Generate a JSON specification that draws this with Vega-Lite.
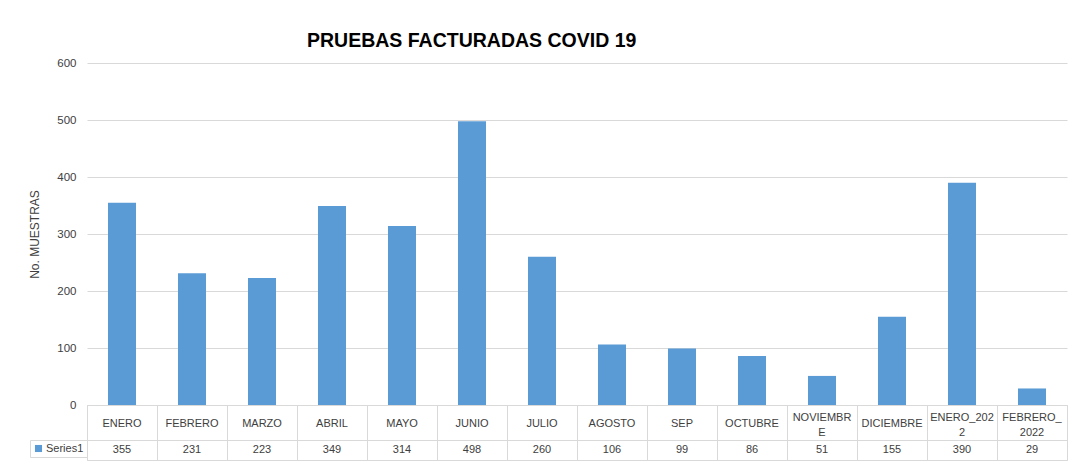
{
  "$schema": "https://vega.github.io/schema/vega-lite/v6.json",
  "background": "white",
  "padding": {"left": 28, "top": 30, "right": 5, "bottom": 5},
  "data": {
    "values": [
      {"mes": "ENERO", "etiqueta": "ENERO", "linea1": "", "linea2": "", "muestras": 355, "serie": "Series1"},
      {"mes": "FEBRERO", "etiqueta": "FEBRERO", "linea1": "", "linea2": "", "muestras": 231, "serie": "Series1"},
      {"mes": "MARZO", "etiqueta": "MARZO", "linea1": "", "linea2": "", "muestras": 223, "serie": "Series1"},
      {"mes": "ABRIL", "etiqueta": "ABRIL", "linea1": "", "linea2": "", "muestras": 349, "serie": "Series1"},
      {"mes": "MAYO", "etiqueta": "MAYO", "linea1": "", "linea2": "", "muestras": 314, "serie": "Series1"},
      {"mes": "JUNIO", "etiqueta": "JUNIO", "linea1": "", "linea2": "", "muestras": 498, "serie": "Series1"},
      {"mes": "JULIO", "etiqueta": "JULIO", "linea1": "", "linea2": "", "muestras": 260, "serie": "Series1"},
      {"mes": "AGOSTO", "etiqueta": "AGOSTO", "linea1": "", "linea2": "", "muestras": 106, "serie": "Series1"},
      {"mes": "SEP", "etiqueta": "SEP", "linea1": "", "linea2": "", "muestras": 99, "serie": "Series1"},
      {"mes": "OCTUBRE", "etiqueta": "OCTUBRE", "linea1": "", "linea2": "", "muestras": 86, "serie": "Series1"},
      {"mes": "NOVIEMBRE", "etiqueta": "", "linea1": "NOVIEMBR", "linea2": "E", "muestras": 51, "serie": "Series1"},
      {"mes": "DICIEMBRE", "etiqueta": "DICIEMBRE", "linea1": "", "linea2": "", "muestras": 155, "serie": "Series1"},
      {"mes": "ENERO_2022", "etiqueta": "", "linea1": "ENERO_202", "linea2": "2", "muestras": 390, "serie": "Series1"},
      {"mes": "FEBRERO_2022", "etiqueta": "", "linea1": "FEBRERO_", "linea2": "2022", "muestras": 29, "serie": "Series1"}
    ]
  },
  "spacing": 0,
  "bounds": "flush",
  "resolve": {"scale": {"color": "independent"}, "legend": {"color": "independent"}},
  "vconcat": [
    {
      "width": 980,
      "height": 342,
      "view": {"stroke": null},
      "title": {
        "text": "PRUEBAS FACTURADAS COVID 19",
        "anchor": "start",
        "frame": "group",
        "dx": 220,
        "offset": 6,
        "font": "Liberation Sans",
        "fontSize": 19.5,
        "fontWeight": "bold",
        "color": "#000000"
      },
      "mark": {"type": "bar", "color": "#5b9bd5"},
      "encoding": {
        "x": {
          "field": "mes",
          "type": "nominal",
          "sort": null,
          "scale": {"paddingInner": 0.6, "paddingOuter": 0.3},
          "axis": null
        },
        "y": {
          "field": "muestras",
          "type": "quantitative",
          "scale": {"domain": [0, 600]},
          "axis": {
            "values": [0, 100, 200, 300, 400, 500, 600],
            "title": "No. MUESTRAS",
            "titleFont": "Liberation Sans",
            "titleFontSize": 12,
            "titleFontWeight": "normal",
            "titleColor": "#404040",
            "titlePadding": 15,
            "labelFont": "Liberation Sans",
            "labelFontSize": 11.5,
            "labelColor": "#404040",
            "labelPadding": 11,
            "domain": false,
            "ticks": false,
            "grid": true,
            "gridColor": "#d9d9d9"
          }
        }
      }
    },
    {
      "width": 980,
      "height": 35,
      "view": {"stroke": "#d9d9d9"},
      "encoding": {
        "x": {
          "field": "mes",
          "type": "nominal",
          "sort": null,
          "scale": {"paddingInner": 0, "paddingOuter": 0},
          "axis": {
            "title": null,
            "labels": false,
            "ticks": false,
            "domain": false,
            "grid": true,
            "tickBand": "extent",
            "gridColor": "#d9d9d9"
          }
        }
      },
      "layer": [
        {
          "mark": {"type": "text", "font": "Liberation Sans", "fontSize": 11, "color": "#404040", "dy": 1},
          "encoding": {"text": {"field": "etiqueta", "type": "nominal"}}
        },
        {
          "mark": {"type": "text", "font": "Liberation Sans", "fontSize": 11, "color": "#404040", "dy": -5},
          "encoding": {"text": {"field": "linea1", "type": "nominal"}}
        },
        {
          "mark": {"type": "text", "font": "Liberation Sans", "fontSize": 11, "color": "#404040", "dy": 10},
          "encoding": {"text": {"field": "linea2", "type": "nominal"}}
        }
      ]
    },
    {
      "width": 980,
      "height": 20,
      "view": {"stroke": "#d9d9d9"},
      "layer": [
        {
          "mark": {
            "type": "text",
            "font": "Liberation Sans",
            "fontSize": 11,
            "color": "#404040"
          },
          "encoding": {
            "x": {
              "field": "mes",
              "type": "nominal",
              "sort": null,
              "scale": {"paddingInner": 0, "paddingOuter": 0},
              "axis": {
                "title": null,
                "labels": false,
                "ticks": false,
                "domain": false,
                "grid": true,
                "tickBand": "extent",
                "gridColor": "#d9d9d9"
              }
            },
            "text": {"field": "muestras", "type": "quantitative"}
          }
        },
        {
          "mark": {"type": "square", "opacity": 0},
          "encoding": {
            "color": {
              "field": "serie",
              "type": "nominal",
              "scale": {"range": ["#5b9bd5"]},
              "legend": {
                "orient": "left",
                "title": null,
                "offset": 0,
                "padding": 3,
                "symbolType": "square",
                "symbolSize": 50,
                "symbolOpacity": 1,
                "symbolStrokeWidth": 0,
                "labelFont": "Liberation Sans",
                "labelFontSize": 11,
                "labelColor": "#404040",
                "labelOffset": 2,
                "strokeColor": "#d9d9d9"
              }
            }
          }
        }
      ]
    }
  ]
}
